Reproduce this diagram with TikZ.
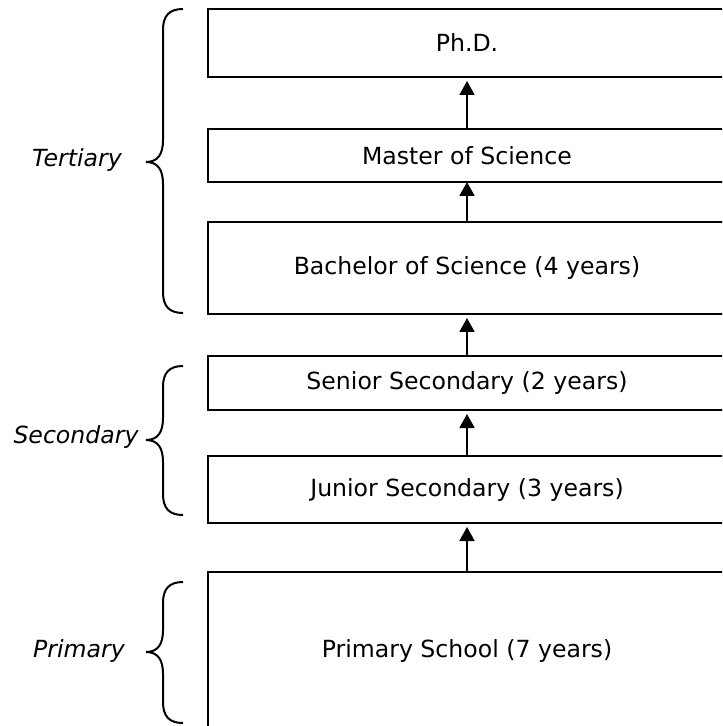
\documentclass[tikz,border=0pt]{standalone}
\usepackage{fontspec}
\setmainfont{DejaVu Sans}
\usepackage{tikz}
\usetikzlibrary{arrows.meta,positioning}

% curly bracket to the left of a group of boxes: top, bottom, tip
\newcommand\levelbrace[3]{%
\draw[brc] (183,#1) .. controls +(-14,0) and +(0,-14) .. (163,#1+21) -- (163,#3-22)
  .. controls +(0,14) and +(12,0) .. (146,#3) .. controls +(12,0) and +(0,-14) .. (163,#3+22)
  -- (163,#2-21) .. controls +(0,14) and +(-14,0) .. (183,#2);}

\begin{document}
\begin{tikzpicture}[x=0.5pt,y=-0.5pt,
box/.style={draw,line width=1pt,outer sep=0pt,minimum width=259pt,font=\fontsize{11.8}{14}\selectfont},
lvl/.style={font=\fontsize{11.8}{14}\selectfont\itshape},
arr/.style={-{Triangle[length=7pt,width=7.5pt]},line width=0.9pt,shorten >=2pt},
brc/.style={line width=1pt}
]
\clip (0,0) rectangle (722,726);
\node[box,minimum height=34pt] (phd) at (467,43) {Ph.D.};
\node[box,minimum height=26.5pt,below=26pt of phd] (msc) {Master of Science};
\node[box,minimum height=46pt,below=20pt of msc] (bsc) {Bachelor of Science (4 years)};
\node[box,minimum height=27pt,below=21pt of bsc] (ss) {Senior Secondary (2 years)};
\node[box,minimum height=33.5pt,below=23pt of ss] (js) {Junior Secondary (3 years)};
\node[box,minimum height=79pt,below=24.5pt of js] (ps) {Primary School (7 years)};
\draw[arr] (msc)--(phd);
\draw[arr,shorten >=0pt] (bsc)--(msc);
\draw[arr] (ss)--(bsc);
\draw[arr] (js)--(ss);
\draw[arr] (ps)--(js);
\levelbrace{9}{313}{162}
\levelbrace{366}{515}{440}
\levelbrace{582}{723}{652}
\node[lvl] (tert) at (77,160) {Tertiary};
\node[lvl] (sec) at (76,437) {Secondary};
\node[lvl] (prim) at (79,651) {Primary};
\end{tikzpicture}
\end{document}
